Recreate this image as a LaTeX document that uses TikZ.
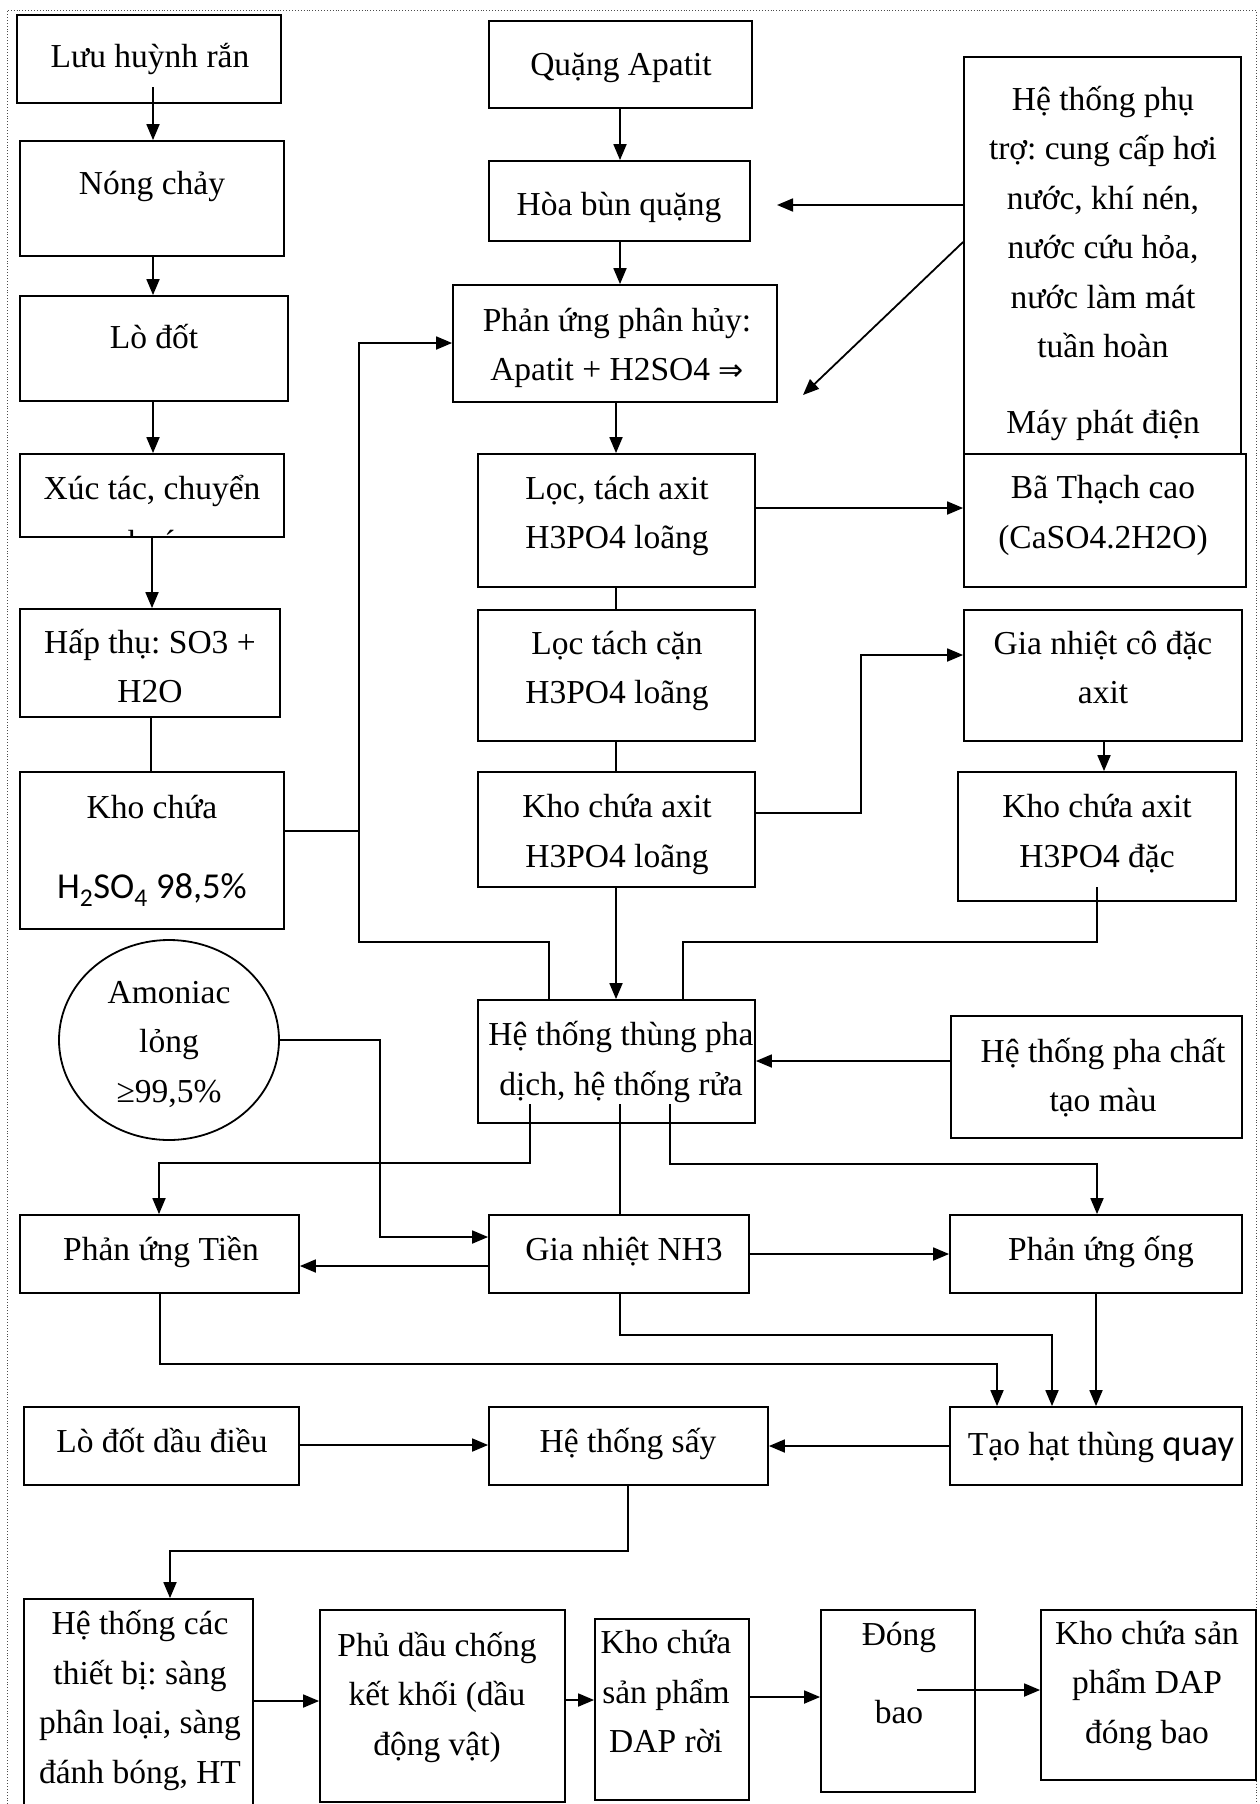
\documentclass[tikz,border=0pt]{standalone}
\usepackage{fontspec}
\setmainfont{Liberation Serif}
\newfontfamily\calib{Carlito}
\newfontfamily\djv{DejaVu Sans}
\usetikzlibrary{arrows.meta,shapes.geometric}
\frenchspacing
\newcommand\txtsize{\fontsize{33.5pt}{49.5pt}\selectfont}
\newcommand\calsize{\calib\fontsize{36.5pt}{49.5pt}\selectfont}
% \mkbox{name}{x1}{y1}{x2}{y2}: empty framed box between two corners
\newcommand\mkbox[5]{\node[box, minimum width={(#4-#2)*1pt}, minimum height={(#5-#3)*1pt}] (#1) at ({(#2+#4)/2},{(#3+#5)/2}) {};}
\begin{document}
\begin{tikzpicture}[x=1pt,y=-1pt,
  box/.style={draw, line width=1.8pt, inner sep=0pt, rectangle},
  txt/.style={align=center, font=\txtsize, inner sep=0pt,
    execute at begin node=\strut, execute at end node=\strut},
  arr/.style={line width=1.8pt, -{Triangle[length=16pt,width=13pt]}},
  ln/.style={line width=1.8pt},
  frame/.style={dotted, line width=0.9pt, black!70}]
\useasboundingbox (0,0) rectangle (1259,1804);
\clip (0,0) rectangle (1259,1804);
\fill[white] (0,0) rectangle (1259,1804);
\draw[frame] (7,1810) -- (7,10) -- (1256,10) -- (1256,1810);

% ---- sulfuric acid line ----
\mkbox{lhr}{17}{15}{281}{103}
\mkbox{nc}{20}{141}{284}{256}
\mkbox{lod}{20}{296}{288}{401}
\mkbox{xt}{20}{454}{284}{537}
\mkbox{ht}{20}{609}{280}{717}
\mkbox{kc}{20}{772}{284}{929}
\node[draw, ellipse, line width=1.8pt, minimum width=220pt, minimum height=200pt, inner sep=0pt] (am) at (169,1040) {};

\node[txt] (t1) at (150,58) {Lưu huỳnh rắn};
\node[txt] (t2) at (152,185) {Nóng chảy};
\node[txt] (t3) at (154,339) {Lò đốt};
\node[txt] (t4) at (152,490) {Xúc tác, chuyển};
\begin{scope}
  \clip (20,455) rectangle (284,536);
  \node[txt] (t4b) at (152,544) {hoá};
\end{scope}
\node[txt] (t5) at (150,673.5) {Hấp thụ: SO3 +\\H2O};
\node[txt] (t6) at (152,809) {Kho chứa};
\node[txt, font=\calsize] (t7) at (152,889) {H\textsubscript{2}SO\textsubscript{4} 98,5\%};
\node[txt] (t8) at (169,1049) {Amoniac\\lỏng\\≥99,5\%};

% ---- phosphoric acid line ----
\mkbox{qa}{489}{21}{752}{108}
\mkbox{hb}{489}{161}{750}{241}
\mkbox{pu}{453}{285}{777}{402}
\mkbox{lta}{478}{454}{755}{587}
\mkbox{ltc}{478}{610}{755}{741}
\mkbox{kca}{478}{772}{755}{887}
\mkbox{htt}{478}{1000}{755}{1123}

\node[txt] (t9) at (621,66) {Quặng Apatit};
\node[txt] (t10) at (619,206) {Hòa bùn quặng};
\node[txt] (t11) at (617,352) {Phản ứng phân hủy:\\Apatit + H2SO4 {\djv\fontsize{30pt}{49.5pt}\selectfont ⇒}};
\node[txt] (t12) at (617,520) {Lọc, tách axit\\H3PO4 loãng};
\node[txt] (t13) at (617,675) {Lọc tách cặn\\H3PO4 loãng};
\node[txt] (t14) at (617,838.5) {Kho chứa axit\\H3PO4 loãng};
\node[txt] (t15) at (621,1066) {Hệ thống thùng pha\\dịch, hệ thống rửa};

% ---- right column ----
\mkbox{pt}{964}{57}{1241}{454}
\mkbox{btc}{964}{454}{1246}{587}
\mkbox{gnc}{964}{610}{1242}{741}
\mkbox{kcd}{958}{772}{1236}{901}
\mkbox{phc}{951}{1016}{1242}{1138}

\node[txt] (t16) at (1103,229.5) {Hệ thống phụ\\trợ: cung cấp hơi\\nước, khí nén,\\nước cứu hỏa,\\nước làm mát\\tuần hoàn};
\node[txt] (t17) at (1103,424) {Máy phát điện};
\node[txt] (t18) at (1103,519.5) {Bã Thạch cao\\(CaSO4.2H2O)};
\node[txt] (t19) at (1103,675) {Gia nhiệt cô đặc\\axit};
\node[txt] (t20) at (1097,838.5) {Kho chứa axit\\H3PO4 đặc};
\node[txt] (t21) at (1103,1082.5) {Hệ thống pha chất\\tạo màu};

% ---- reaction and granulation ----
\mkbox{put}{20}{1215}{299}{1293}
\mkbox{gn}{489}{1215}{749}{1293}
\mkbox{puo}{950}{1215}{1242}{1293}
\mkbox{ldd}{24}{1407}{299}{1485}
\mkbox{hts}{489}{1407}{768}{1485}
\mkbox{th}{950}{1407}{1242}{1485}

\node[txt] (t22) at (161,1251) {Phản ứng Tiền};
\node[txt] (t23) at (624,1251) {Gia nhiệt NH3};
\node[txt] (t24) at (1101,1251) {Phản ứng ống};
\node[txt] (t25) at (162,1443) {Lò đốt dầu điều};
\node[txt] (t26) at (628,1443) {Hệ thống sấy};
\node[txt] (t27) at (1101,1446) {Tạo hạt thùng {\calsize quay}};

% ---- finishing and bagging ----
\mkbox{htc}{24}{1599}{253}{1830}
\mkbox{pd}{320}{1610}{565}{1802}
\mkbox{kr}{595}{1619}{749}{1800}
\mkbox{db}{821}{1610}{975}{1792}
\mkbox{kdb}{1041}{1610}{1256}{1780}

\node[txt] (t28) at (140,1704.5) {Hệ thống các\\thiết bị: sàng\\phân loại, sàng\\đánh bóng, HT};
\node[txt] (t29) at (437,1701) {Phủ dầu chống\\kết khối (dầu\\động vật)};
\node[txt] (t30) at (666,1699) {Kho chứa\\sản phẩm\\DAP rời};
\node[txt] (t31) at (899,1636) {Đóng};
\node[txt] (t32) at (899,1714) {bao};
\node[txt] (t33) at (1147,1689.5) {Kho chứa sản\\phẩm DAP\\đóng bao};

% ---- connectors: sulfuric acid ----
\coordinate (s0) at (153,87);
\draw[arr] (s0) -- (nc.north -| s0);
\draw[arr] (nc.south -| 153,0) -- (lod.north -| 153,0);
\draw[arr] (lod.south -| 153,0) -- (xt.north -| 153,0);
\draw[arr] (xt.south -| 152,0) -- (ht.north -| 152,0);
\draw[ln] (ht.south -| 151,0) -- (kc.north -| 151,0);
\coordinate (j1) at (359,831);
\draw[arr] (kc.east |- j1) -| (359,343) -- (pu.west |- 0,343);
\draw[ln] (j1) |- (549,942) -- (htt.north -| 549,0);

% ---- connectors: phosphoric acid ----
\draw[arr] (qa.south -| 620,0) -- (hb.north -| 620,0);
\draw[arr] (hb.south -| 620,0) -- (pu.north -| 620,0);
\draw[arr] (pu.south -| 616,0) -- (lta.north -| 616,0);
\draw[ln] (lta.south -| 616,0) -- (ltc.north -| 616,0);
\draw[ln] (ltc.south -| 616,0) -- (kca.north -| 616,0);
\draw[arr] (kca.south -| 616,0) -- (htt.north -| 616,0);

\coordinate (e1) at (777,205);
\draw[arr] (pt.west |- e1) -- (e1);
\coordinate (e2) at (803,395);
\draw[arr] (pt.west |- 0,242) -- (e2);
\draw[arr] (lta.east |- 0,508) -- (btc.west |- 0,508);
\draw[arr] (kca.east |- 0,813) -| (861,655) -- (gnc.west |- 0,655);
\draw[arr] (gnc.south -| 1104,0) -- (kcd.north -| 1104,0);
\coordinate (k0) at (1097,887);
\draw[ln] (k0) |- (683,942) -- (htt.north -| 683,0);
\draw[arr] (phc.west |- 0,1061) -- (htt.east |- 0,1061);

% ---- connectors: mixing tanks to reactors ----
\coordinate (h1) at (530,1104);
\coordinate (h2) at (620,1104);
\coordinate (h3) at (670,1104);
\draw[arr] (h1) |- (159,1163) -- (put.north -| 159,0);
\draw[ln] (h2) -- (gn.north -| h2);
\draw[arr] (h3) |- (1097,1164) -- (puo.north -| 1097,0);
\draw[arr] (am.east) -| (380,1237) -- (gn.west |- 0,1237);
\draw[arr] (gn.west |- 0,1266) -- (put.east |- 0,1266);
\draw[arr] (gn.east |- 0,1254) -- (puo.west |- 0,1254);
\draw[arr] (put.south -| 160,0) |- (997,1364) -- (th.north -| 997,0);
\draw[arr] (gn.south -| 620,0) |- (1052,1335) -- (th.north -| 1052,0);
\draw[arr] (puo.south -| 1096,0) -- (th.north -| 1096,0);
\draw[arr] (ldd.east |- 0,1445) -- (hts.west |- 0,1445);
\draw[arr] (th.west |- 0,1446) -- (hts.east |- 0,1446);

% ---- connectors: finishing ----
\draw[arr] (hts.south -| 628,0) |- (170,1551) -- (htc.north -| 170,0);
\draw[arr] (htc.east |- 0,1701) -- (pd.west |- 0,1701);
\draw[arr] (pd.east |- 0,1700) -- (kr.west |- 0,1700);
\draw[arr] (kr.east |- 0,1697) -- (db.west |- 0,1697);
\coordinate (d0) at (917,1690);
\draw[arr] (d0) -- (kdb.west |- d0);
\end{tikzpicture}
\end{document}
